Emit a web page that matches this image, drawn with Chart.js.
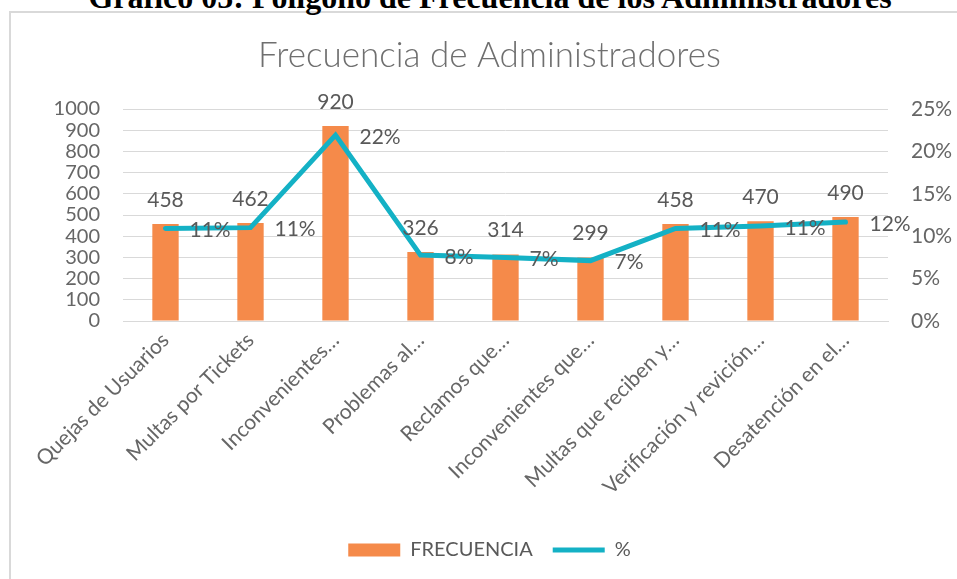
<!DOCTYPE html>
<html lang="es">
<head>
<meta charset="utf-8">
<title>Frecuencia de Administradores</title>
<script src="https://cdn.jsdelivr.net/npm/chart.js@4.4.1/dist/chart.umd.min.js"></script>
<style>
  html, body { margin: 0; padding: 0; background: #ffffff; overflow: hidden; }
  body { width: 957px; height: 579px; position: relative; }
  #heading {
    position: absolute; left: 0; width: 980px; top: -19px;
    text-align: center; font-family: "Liberation Serif", "Times New Roman", serif;
    font-weight: bold; font-size: 32px; line-height: 32px; color: #000;
    white-space: nowrap;
  }
  #frame {
    position: absolute; left: 9px; top: 11px; width: 1000px; height: 600px;
    border: 2px solid #d9d9d9; box-sizing: border-box; background: #fff;
  }
  #wrap { position: absolute; left: 0; top: 0; width: 957px; height: 579px; }
</style>
</head>
<body>
<div id="frame"></div>
<div id="heading">Gráfico 05: Polígono de Frecuencia de los Administradores</div>
<div id="wrap"><canvas id="chart" width="957" height="579"></canvas></div>
<script>
// Categories (long names are shown shortened, as on the axis)
const categories = [
  'Quejas de Usuarios',
  'Multas por Tickets',
  'Inconvenientes…',
  'Problemas al…',
  'Reclamos que…',
  'Inconvenientes que…',
  'Multas que reciben y…',
  'Verificación y revición…',
  'Desatención en el…'
];

// Number of cases per category
const frecuencia = [458, 462, 920, 326, 314, 299, 458, 470, 490];

// Share of each category in the total
const porcentaje = [0.1091, 0.1101, 0.2192, 0.0777, 0.0748, 0.0712, 0.1091, 0.1120, 0.1167];

// Axis ticks
const leftTicks = [0, 100, 200, 300, 400, 500, 600, 700, 800, 900, 1000];
const rightTicks = [0, 0.05, 0.10, 0.15, 0.20, 0.25];

const TEXT = '#595959';
const AXIS_TEXT = '#666666';
const GRID = '#d9d9d9';
const BAR = '#F58A4A';
const LINE = '#14B1C5';

// Value labels: numbers above the bars, percentages right of the line points
const valueLabels = {
  id: 'valueLabels',
  afterDatasetsDraw(chart) {
    const ctx = chart.ctx;
    ctx.save();
    ctx.font = '21px Lato';
    ctx.fillStyle = TEXT;
    ctx.textBaseline = 'middle';
    const bars = chart.getDatasetMeta(0);
    ctx.textAlign = 'center';
    bars.data.forEach((el, i) => {
      ctx.fillText(String(frecuencia[i]), el.x, el.y - 24);
    });
    const pts = chart.getDatasetMeta(1);
    ctx.textAlign = 'left';
    pts.data.forEach((el, i) => {
      ctx.fillText(Math.round(porcentaje[i] * 100) + '%', el.x + 24, el.y + 2);
    });
    ctx.restore();
  }
};

new Chart(document.getElementById('chart'), {
  data: {
    labels: categories,
    datasets: [
      {
        type: 'bar',
        label: 'FRECUENCIA',
        data: frecuencia,
        backgroundColor: BAR,
        borderWidth: 0,
        barPercentage: 0.31,
        categoryPercentage: 1,
        yAxisID: 'y',
        order: 1,
        pointStyle: 'rect'
      },
      {
        type: 'line',
        label: '%',
        data: porcentaje,
        borderColor: LINE,
        backgroundColor: LINE,
        borderWidth: 5,
        borderCapStyle: 'round',
        borderJoinStyle: 'miter',
        pointRadius: 0,
        pointHoverRadius: 0,
        pointStyle: 'line',
        tension: 0,
        yAxisID: 'y1',
        order: 0
      }
    ]
  },
  options: {
    responsive: false,
    animation: false,
    events: [],
    layout: { padding: { top: 20, bottom: 9, left: 22, right: 0 } },
    plugins: {
      title: {
        display: true,
        text: 'Frecuencia de Administradores',
        color: '#6f6f6f',
        font: { family: 'Lato', size: 35, weight: '300' },
        padding: { top: 15, bottom: 32 }
      },
      legend: {
        position: 'bottom',
        labels: {
          usePointStyle: true,
          pointStyleWidth: 52,
          boxWidth: 52,
          boxHeight: 13,
          padding: 20,
          color: TEXT,
          font: { family: 'Lato', size: 20 },
          sort: (a, b) => a.datasetIndex - b.datasetIndex
        }
      },
      tooltip: { enabled: false }
    },
    scales: {
      x: {
        grid: { display: false, drawTicks: false },
        border: { display: true, color: GRID, width: 1 },
        ticks: {
          autoSkip: false,
          minRotation: 45,
          maxRotation: 45,
          padding: 7,
          color: AXIS_TEXT,
          font: { family: 'Lato', size: 21 }
        },
        afterFit(scale) { scale.height = 199; }
      },
      y: {
        position: 'left',
        min: 0,
        max: 1000,
        afterBuildTicks(scale) { scale.ticks = leftTicks.map(v => ({ value: v })); },
        grid: { color: GRID, lineWidth: 1, drawTicks: false },
        border: { display: false },
        ticks: {
          autoSkip: false,
          padding: 23,
          color: AXIS_TEXT,
          font: { family: 'Lato', size: 20 },
          callback: v => String(v)
        },
        afterFit(scale) { scale.width = 101; }
      },
      y1: {
        position: 'right',
        min: 0,
        max: 0.25,
        afterBuildTicks(scale) { scale.ticks = rightTicks.map(v => ({ value: v })); },
        grid: { drawOnChartArea: false, drawTicks: false },
        border: { display: false },
        ticks: {
          autoSkip: false,
          padding: 23,
          color: AXIS_TEXT,
          font: { family: 'Lato', size: 21 },
          callback: v => Math.round(v * 100) + '%'
        },
        afterFit(scale) { scale.width = 69; }
      }
    }
  },
  plugins: [valueLabels]
});
</script>
</body>
</html>
